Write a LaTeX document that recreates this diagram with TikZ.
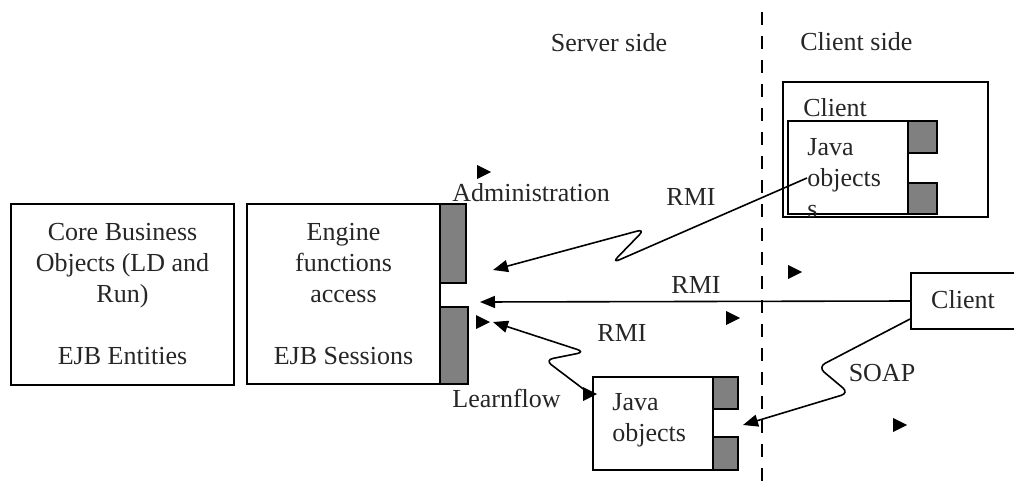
\documentclass[tikz,border=0pt]{standalone}
\usepackage{fontspec}
\setmainfont{Liberation Serif}
\usetikzlibrary{arrows.meta}

\begin{document}
\begin{tikzpicture}[x=0.5pt,y=-0.5pt,
  font=\fontsize{13}{15.5}\selectfont,
  box/.style={draw,line width=0.9pt,inner sep=0pt,text=black!85},
  port/.style={draw,line width=0.9pt,fill=gray,inner sep=0pt},
  lbl/.style={inner sep=0pt,text=black!85},
  conn/.style={line width=0.8pt,rounded corners=4pt,-{Triangle[length=7.5pt,width=6pt]}}]
  \useasboundingbox (0,0) rectangle (1014,487);
  \clip (0,0) rectangle (1014,487);

  % server side
  \node[box,minimum width=111.5pt,minimum height=90.5pt,align=center] (core) at (122.5,294.5)
    {Core Business\\Objects (LD and\\Run)\\[15.5pt]EJB Entities};
  \node[box,minimum width=96.5pt,minimum height=90pt,align=center] (engine) at (343.5,294)
    {Engine\\functions\\access\\[15.5pt]EJB Sessions};
  \node[port,minimum width=13pt,minimum height=39.5pt] (eportA) at (453,243.5) {};
  \node[port,minimum width=14pt,minimum height=38.5pt] (eportB) at (454,345.5) {};

  \node[box,minimum width=60pt,minimum height=46.5pt] (javaL) at (653,423.5) {};
  \node[port,minimum width=12.5pt,minimum height=16pt] (lportA) at (725.5,393) {};
  \node[port,minimum width=12.5pt,minimum height=16.5pt] (lportB) at (725.5,453.5) {};
  \node[lbl,anchor=west,align=left] (javaLtxt) at (612,420) {Java\\objects};

  % client side
  \node[box,minimum width=102.5pt,minimum height=67.5pt] (cbox) at (885.5,149.5) {};
  \node[lbl,anchor=west] (cboxtxt) at (803,108) {Client};
  \node[box,minimum width=60pt,minimum height=46.5pt] (javaU) at (848,167.5) {};
  \node[port,minimum width=14.5pt,minimum height=16pt] (uportA) at (922.5,137) {};
  \node[port,minimum width=14.5pt,minimum height=15.5pt] (uportB) at (922.5,198.5) {};
  \node[lbl,anchor=west,align=left] (javaUtxt) at (807,178) {Java\\objects\\s};

  \node[box,minimum width=54.5pt,minimum height=28pt] (clientR) at (965.5,301) {};
  \node[lbl] (clientRtxt) at (963,300) {Client};

  % labels
  \node[lbl] (server) at (609,43) {Server side};
  \node[lbl,anchor=west] (clientside) at (800,42) {Client side};
  \node[lbl,anchor=west] (admin) at (452,193) {Administration};
  \node[lbl,anchor=west] (learn) at (452,398) {Learnflow};
  \node[lbl] (rmiA) at (691,197) {RMI};
  \node[lbl] (rmiB) at (696,285) {RMI};
  \node[lbl] (rmiC) at (622,333) {RMI};
  \node[lbl] (soap) at (882,373) {SOAP};

  % separator
  \coordinate (dtop) at (762,12);
  \coordinate (dbot) at (762,487);
  \draw[line width=1pt,dash pattern=on 6.5pt off 5.5pt] (dtop) -- (dbot);

  % connectors
  \coordinate (admtip) at (493,270);
  \coordinate (rmitip) at (480,302);
  \coordinate (lftip) at (493,322);
  \coordinate (lfstart) at (590,394);
  \coordinate (soaptip) at (743,425);
  \draw[conn] (javaUtxt.west) -- (612,263) -- (645,229) -- (admtip);
  \draw[conn] (clientR.west) -- (rmitip);
  \draw[conn] (lfstart) -- (545,360) -- (585,352) -- (lftip);
  \draw[conn] ([yshift=-9pt]clientR.west) -- (818,367) -- (849,393) -- (soaptip);

  % loose arrow heads
  \fill (484,172) ++(-7,-7) -- ++(14,7) -- ++(-14,7) -- cycle;
  \fill (795,272) ++(-7,-7) -- ++(14,7) -- ++(-14,7) -- cycle;
  \fill (733,318) ++(-7,-7) -- ++(14,7) -- ++(-14,7) -- cycle;
  \fill (483,322) ++(-7,-7) -- ++(14,7) -- ++(-14,7) -- cycle;
  \fill (590,394) ++(-7,-7) -- ++(14,7) -- ++(-14,7) -- cycle;
  \fill (900,425) ++(-7,-7) -- ++(14,7) -- ++(-14,7) -- cycle;
\end{tikzpicture}
\end{document}
